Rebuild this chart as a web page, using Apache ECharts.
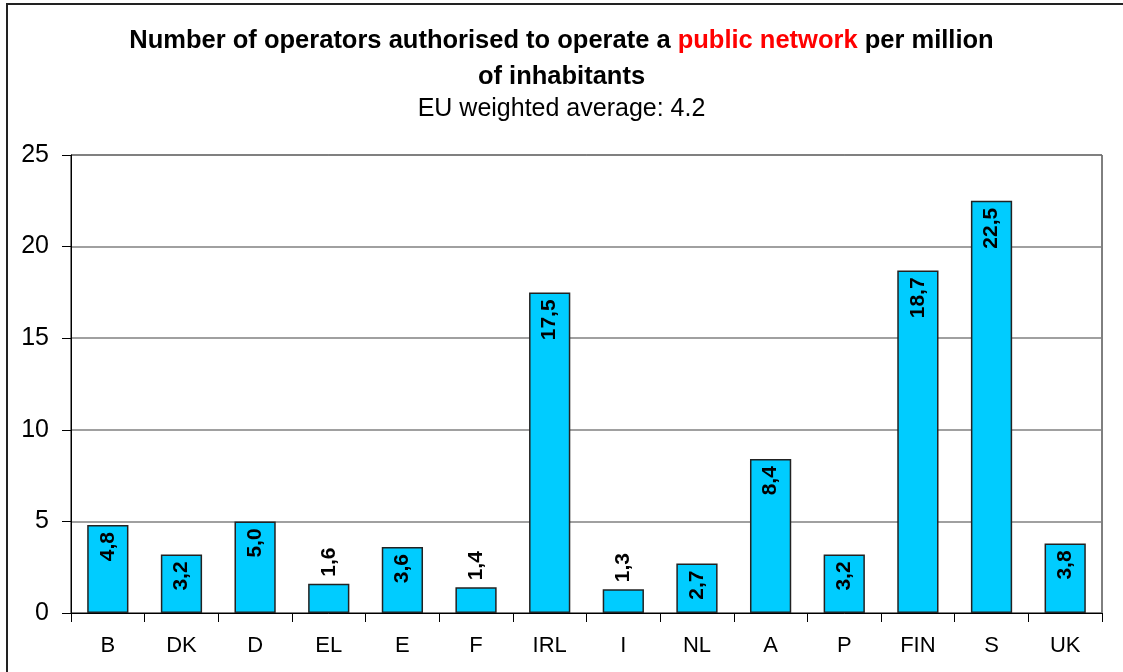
<!DOCTYPE html>
<html>
<head>
<meta charset="utf-8">
<script src="https://cdn.jsdelivr.net/npm/echarts@6/dist/echarts.min.js"></script>
<style>
html,body{margin:0;padding:0;background:#fff;overflow:hidden;}
#frame{position:absolute;left:6px;top:3px;width:2000px;height:2000px;border:2px solid #222;box-sizing:border-box;}
#chart{position:absolute;left:0;top:0;width:1123px;height:672px;}
</style>
</head>
<body>
<div id="frame"></div>
<div id="chart"></div>
<script>
const categories = ['B','DK','D','EL','E','F','IRL','I','NL','A','P','FIN','S','UK'];
const values = [4.8, 3.2, 5.0, 1.6, 3.6, 1.4, 17.5, 1.3, 2.7, 8.4, 3.2, 18.7, 22.5, 3.8];
const yTicks = [0, 5, 10, 15, 20, 25];
const titleParts = ['Number of operators authorised to operate a ', 'public network', ' per million', 'of inhabitants'];
const subtitleText = 'EU weighted average: 4.2';

const NARROW = "'Liberation Sans Narrow','Arial Narrow','Liberation Sans',Arial,sans-serif";
const SANS = "'Liberation Sans',Arial,sans-serif";

const chart = echarts.init(document.getElementById('chart'), null, {renderer:'canvas'});
const data = values.map(v => {
  const small = v < 2.5;
  return {
    value: v,
    label: small
      ? {position:'top', distance:7, align:'left'}
      : {position:'insideTop', distance:7, align:'right'}
  };
});
chart.setOption({
  animation:false,
  backgroundColor:'transparent',
  title:[{
    text:'{b|'+titleParts[0]+'}{r|'+titleParts[1]+'}{b|'+titleParts[2]+'}\n{b|'+titleParts[3]+'}',
    left:'center', top:18,
    textStyle:{
      rich:{
        b:{fontFamily:NARROW, fontWeight:'bold', fontSize:25.5, color:'#000', lineHeight:36},
        r:{fontFamily:NARROW, fontWeight:'bold', fontSize:25.5, color:'#ff0000', lineHeight:36}
      }
    }
  },{
    text:subtitleText,
    left:'center', top:92,
    textStyle:{fontFamily:NARROW, fontWeight:'normal', fontSize:25, color:'#000'}
  }],
  grid:{left:71, right:21, top:155, bottom:59, show:true, borderColor:'#000', borderWidth:1, backgroundColor:'transparent'},
  xAxis:{
    type:'category', data:categories,
    axisLine:{lineStyle:{color:'#000', width:1}},
    axisTick:{show:true, length:9, lineStyle:{color:'#000'}},
    axisLabel:{fontFamily:NARROW, fontSize:22, color:'#000', margin:22}
  },
  yAxis:{
    type:'value', min:0, max:25, interval:5,
    axisLine:{show:true, lineStyle:{color:'#000', width:1}},
    axisTick:{show:true, length:9, lineStyle:{color:'#000'}},
    axisLabel:{fontFamily:SANS, fontSize:25, color:'#000', margin:22},
    splitLine:{show:true, lineStyle:{color:'#808080', width:1.5}}
  },
  series:[{
    type:'bar', data:data, barWidth:'56%',
    itemStyle:{color:'#00CCFF', borderColor:'#222', borderWidth:1.5},
    label:{
      show:true, rotate:90, verticalAlign:'middle',
      fontFamily:SANS, fontWeight:'bold', fontSize:21, color:'#000',
      formatter:p => p.value.toFixed(1).replace('.', ',')
    }
  }]
});
</script>
</body>
</html>
